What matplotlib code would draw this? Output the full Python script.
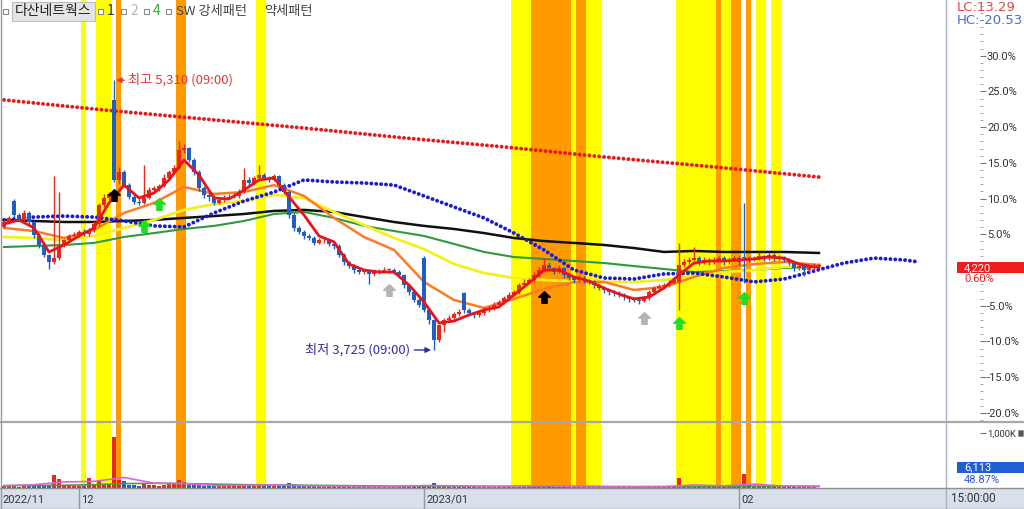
import matplotlib
matplotlib.use("Agg")
import matplotlib.pyplot as plt
from matplotlib.patches import Rectangle
from matplotlib.path import Path
from matplotlib.lines import Line2D
from matplotlib import font_manager as fm
import numpy as np

plt.rcParams['font.family'] = ['Noto Sans CJK KR', 'DejaVu Sans']

try:
    fm.findfont('Liberation Sans Narrow', fallback_to_default=False)
    NUM_FONT = ['Liberation Sans Narrow', 'DejaVu Sans']
    NUM_SIZE = 9.6
except Exception:
    NUM_FONT = ['Roboto', 'DejaVu Sans']
    NUM_SIZE = 8

# ---------------- data ----------------
base_price = 4195  # previous close (0 %)

opens = [4450,4475,4600,4520,4490,4530,4475,4400,4340,4285,
         4240,4265,4340,4370,4395,4400,4420,4405,4430,4465,
         4575,4620,5195,4725,4770,4695,4625,4595,4590,4620,
         4665,4675,4690,4735,4770,4795,4900,4910,4840,4770,
         4675,4635,4625,4590,4605,4620,4625,4630,4655,4725,
         4705,4735,4755,4735,4725,4745,4695,4655,4520,4440,
         4420,4395,4385,4355,4370,4370,4350,4335,4285,4240,
         4220,4195,4185,4185,4170,4190,4185,4195,4195,4185,
         4165,4105,4065,4020,4265,3960,3900,3785,3870,3900,
         3915,3935,4060,3960,3940,3930,3940,3960,3970,3990,
         4005,4030,4050,4065,4105,4120,4135,4165,4195,4225,
         4205,4185,4205,4165,4150,4135,4150,4135,4125,4105,
         4090,4075,4065,4060,4050,4035,4025,4020,4015,4030,
         4065,4090,4100,4105,4120,4125,4225,4240,4255,4265,
         4240,4255,4240,4255,4265,4240,4255,4265,4270,4265,
         4255,4265,4275,4265,4285,4265,4270,4255,4240,4205,
         4220,4195,4205,4220]
highs = [4490,4515,4610,4530,4545,4540,4480,4410,4350,4290,
         4745,4655,4380,4405,4420,4430,4435,4440,4480,4590,
         4640,4655,5310,4800,4785,4705,4640,4610,4810,4680,
         4690,4700,4760,4785,4810,4950,4935,4920,4850,4780,
         4690,4650,4635,4620,4635,4640,4645,4670,4795,4740,
         4750,4810,4765,4745,4760,4755,4705,4665,4530,4455,
         4430,4405,4395,4385,4385,4380,4360,4345,4295,4250,
         4230,4205,4200,4195,4200,4200,4210,4205,4205,4195,
         4170,4115,4075,4030,4280,3970,3905,3880,3915,3930,
         3950,3965,4065,3970,3950,3955,3975,3985,4005,4020,
         4045,4065,4080,4120,4140,4150,4185,4215,4265,4240,
         4215,4225,4215,4175,4160,4165,4160,4145,4135,4115,
         4100,4085,4075,4070,4060,4045,4035,4030,4045,4075,
         4100,4115,4120,4135,4150,4355,4260,4270,4330,4275,
         4270,4265,4270,4280,4275,4270,4280,4275,4590,4280,
         4280,4300,4285,4300,4295,4285,4280,4265,4250,4235,
         4230,4225,4235,4235]
lows = [4440,4465,4505,4480,4480,4460,4385,4325,4270,4200,
        4230,4255,4330,4360,4385,4390,4395,4395,4420,4455,
        4565,4605,4710,4700,4680,4610,4580,4575,4580,4610,
        4650,4660,4680,4725,4760,4790,4880,4830,4755,4660,
        4615,4600,4575,4580,4595,4610,4615,4620,4645,4695,
        4695,4725,4725,4710,4715,4680,4640,4500,4425,4405,
        4380,4370,4340,4345,4355,4335,4320,4270,4225,4205,
        4180,4170,4170,4110,4160,4170,4175,4180,4170,4150,
        4090,4050,4005,3975,3950,3880,3725,3770,3830,3890,
        3900,3925,3945,3925,3915,3920,3930,3950,3960,3980,
        3995,4020,4040,4055,4095,4110,4125,4155,4185,4190,
        4170,4175,4150,4135,4120,4125,4120,4110,4090,4075,
        4060,4050,4045,4035,4020,4005,4005,3995,4005,4020,
        4055,4080,4090,4095,4110,3960,4215,4230,4245,4225,
        4230,4225,4230,4245,4225,4230,4245,4225,4120,4240,
        4245,4255,4250,4255,4250,4255,4240,4225,4190,4195,
        4160,4185,4195,4205]
closes = [4475,4500,4520,4490,4530,4475,4400,4340,4285,4240,
          4265,4340,4370,4395,4400,4420,4405,4430,4465,4575,
          4620,4640,4725,4770,4695,4625,4595,4590,4620,4665,
          4675,4690,4735,4770,4795,4900,4910,4840,4770,4675,
          4635,4625,4590,4605,4620,4625,4630,4655,4725,4705,
          4735,4755,4735,4725,4745,4695,4655,4520,4440,4420,
          4395,4385,4355,4370,4370,4350,4335,4285,4240,4220,
          4195,4185,4185,4170,4190,4185,4195,4195,4185,4165,
          4105,4065,4020,3990,3960,3900,3785,3870,3900,3915,
          3935,3950,3960,3940,3930,3940,3960,3970,3990,4005,
          4030,4050,4065,4105,4120,4135,4165,4195,4225,4205,
          4185,4205,4165,4150,4135,4150,4135,4125,4105,4090,
          4075,4065,4060,4050,4035,4025,4020,4015,4030,4065,
          4090,4100,4105,4120,4135,4225,4240,4255,4265,4240,
          4255,4240,4255,4265,4240,4255,4265,4240,4265,4255,
          4265,4275,4265,4285,4265,4270,4255,4240,4205,4220,
          4195,4205,4220,4220]
volume_k = [40,30,35,25,30,28,35,30,40,35,
            230,160,40,35,30,30,45,190,60,120,
            70,60,930,140,120,60,50,45,90,60,
            55,45,60,80,70,150,110,60,70,50,
            40,35,30,35,30,30,35,40,80,50,
            60,55,40,35,40,45,50,90,70,40,
            35,30,35,30,25,25,30,40,35,30,
            25,20,20,25,20,20,20,20,20,25,
            40,35,40,35,60,50,90,60,40,30,
            25,25,40,25,20,20,20,20,25,25,
            25,30,30,40,35,35,40,45,50,35,
            30,35,30,25,25,20,20,20,20,25,
            20,20,20,20,20,20,20,25,25,30,
            30,25,25,30,35,190,60,40,35,30,
            30,25,25,30,25,25,25,25,260,60,
            40,35,35,30,35,30,30,30,40,30,
            30,35,30,6.113]

# short moving average (red), sampled every 3 bars
ma_red_idx = list(range(0, 163, 3)) + [163]
ma_red = [4465,4489,4442,4301,4342,4395,4442,4589,4694,4618,
          4647,4724,4841,4753,4618,4612,4665,4724,4736,4624,
          4518,4395,4360,4230,4195,4183,4183,4107,4007,3884,
          3895,3931,3960,3978,4048,4119,4195,4195,4154,4130,
          4089,4054,4025,4036,4089,4166,4236,4248,4248,4254,
          4260,4271,4265,4230,4213,4213]

# longer moving averages, sampled every 6 bars
ma_idx = list(range(0, 157, 6)) + [163]
ma_orange = [4442,4424,4383,4430,4530,4589,4683,4642,4653,4694,4630,4501,4389,4313,
             4125,4019,3972,4025,4083,4125,4125,4078,4095,4154,4207,4230,4242,4224]
ma_yellow = [4389,4383,4371,4395,4442,4489,4548,4583,4600,4636,4618,4536,4459,4383,
             4318,4230,4177,4148,4136,4130,4125,4125,4136,4160,4183,4195,4213,4224]
ma_green = [4330,4336,4342,4354,4389,4412,4436,4454,4483,4524,4536,4501,4454,4424,
            4395,4348,4301,4271,4260,4248,4236,4218,4201,4183,4189,4195,4207,4213]
ma_black = [4489,4483,4477,4477,4483,4489,4501,4512,4524,4542,4548,4536,4506,4477,
            4454,4436,4412,4383,4365,4354,4342,4324,4301,4307,4301,4301,4301,4295]

# leading blue dotted line (extends beyond last bar)
blue_idx = list(range(0, 181, 6)) + [183]
blue_line = [4489,4506,4512,4506,4483,4454,4448,4530,4600,4653,4724,4712,4706,4694,
             4630,4565,4501,4412,4313,4195,4148,4142,4172,4177,4154,4125,4142,4189,
             4236,4265,4254,4242]

# long red dotted line
red_dot_idx = [0, 20, 40, 60, 80, 100, 120, 140, 163]
red_dot = [5194, 5135, 5082, 5029, 4971, 4918, 4859, 4806, 4741]

# volume moving averages (K)
vol_ma_pink = [40,60,110,120,190,90,80,45,50,55,40,32,25,22,45,40,25,30,40,28,22,22,25,55,40,70,35,25]
vol_ma_green = [45,45,50,60,80,85,80,70,60,55,50,45,40,35,35,35,33,30,30,30,28,26,25,28,30,35,35,33]

# pattern bands (bar ranges), Y = yellow, O = orange
band_start = [16, 19, 23, 35, 51, 102, 106, 114, 115, 117, 135, 143, 144, 146, 149, 151, 154]
band_end   = [16, 21, 23, 36, 52, 105, 113, 114, 116, 119, 142, 143, 145, 147, 149, 152, 155]
band_kind  = ['Y','Y','O','O','Y','Y','O','Y','O','Y','Y','O','Y','O','O','Y','Y']

# signal markers
sig_black_idx = [22, 108];            sig_black_val = [4636, 4036]
sig_green_idx = [28, 31, 135, 148];   sig_green_val = [4454, 4583, 3884, 4030]
sig_gray_idx = [77, 128];             sig_gray_val = [4078, 3913]

# month boundaries
month_idx = [15, 84, 147]
month_lbl = ['12', '2023/01', '02']

pct_ticks = [-20, -15, -10, -5, 0, 5, 10, 15, 20, 25, 30]

# ---------------- figure ----------------
W, H = 1024, 509
fig = plt.figure(figsize=(W / 100, H / 100), dpi=100)
fig.patch.set_facecolor('white')

def fx(px):
    return px / W

def fy(py):
    return 1 - py / H

UP = '#e8281e'
DN = '#1f5fc4'
YEL = '#ffff00'
ORG = '#ff9a00'

ax = fig.add_axes([0, fy(421), fx(946), 421 / H])
axv = fig.add_axes([0, fy(488), fx(946), (488 - 423) / H])
axd = fig.add_axes([0, 0, fx(946), 21 / H])

XLIM = (-0.8, 188.4)
for a in (ax, axv, axd):
    a.set_xlim(*XLIM)
    a.set_xticks([])
    for s in ('top', 'bottom', 'left'):
        a.spines[s].set_visible(False)
ax.set_ylim(3308, 5781)
axv.set_ylim(0, 1180)

# bands
for s, e, k in zip(band_start, band_end, band_kind):
    col = YEL if k == 'Y' else ORG
    for a in (ax, axv):
        a.axvspan(s - 0.5, e + 0.5, color=col, lw=0, zorder=0)

xs = np.arange(len(closes))
o = np.array(opens, float); c = np.array(closes, float)
h = np.array(highs, float); l = np.array(lows, float)
colors = np.where(c >= o, UP, DN)
prev_c = np.concatenate([[o[0]], c[:-1]])
vol_colors = np.where(c >= prev_c, UP, DN)

# long lines
ax.plot(red_dot_idx, red_dot, color='#e81818', lw=2.8, linestyle=(0, (0.01, 1.25)),
        dash_capstyle='round', zorder=2.5)
ax.plot(ma_idx, ma_black, color='#101010', lw=1.8, zorder=2)
ax.plot(ma_idx, ma_green, color='#2e9a3e', lw=1.5, zorder=2)
ax.plot(ma_idx, ma_yellow, color='#f2f21a', lw=2.0, zorder=2)
ax.plot(ma_idx, ma_orange, color='#ff7a26', lw=1.8, zorder=2.2)
ax.plot(blue_idx, blue_line, color='#1a1ad2', lw=2.8, linestyle=(0, (0.01, 1.25)),
        dash_capstyle='round', zorder=2.6)

# candles
ax.vlines(xs, l, h, colors=colors, lw=1, zorder=3)
ax.bar(xs, np.maximum(np.abs(c - o), 4), bottom=np.minimum(o, c), width=0.62,
       color=colors, linewidth=0, zorder=3)
ax.plot(ma_red_idx, ma_red, color='#e8141a', lw=2.0, zorder=4)

# signal markers
arrow_marker = Path([(0, 1), (1, 0.05), (0.45, 0.05), (0.45, -1), (-0.45, -1),
                     (-0.45, 0.05), (-1, 0.05), (0, 1)],
                    [Path.MOVETO] + [Path.LINETO] * 6 + [Path.CLOSEPOLY])
ax.scatter(sig_black_idx, sig_black_val, marker=arrow_marker, s=70, color='black', zorder=5)
ax.scatter(sig_green_idx, sig_green_val, marker=arrow_marker, s=70, color='#22dd22', zorder=5)
ax.scatter(sig_gray_idx, sig_gray_val, marker=arrow_marker, s=70, color='#b4b4b4', zorder=5)

# high / low annotations
hi_i = int(np.argmax(highs)); hi = highs[hi_i]
lo_i = int(np.argmin(lows)); lo = lows[lo_i]
ax.annotate(f"최고 {hi:,} (09:00)", xy=(hi_i + 0.4, hi), xytext=(9, 0),
            textcoords='offset points', ha='left', va='center', fontsize=9.5,
            color='#e0383a', zorder=6,
            arrowprops=dict(arrowstyle='-|>', color='#e0383a', lw=1.0,
                            mutation_scale=8, shrinkA=1, shrinkB=0))
ax.annotate(f"최저 {lo:,} (09:00)", xy=(lo_i - 0.6, lo), xytext=(-15, 0),
            textcoords='offset points', ha='right', va='center', fontsize=9.5,
            color='#2e2e9e', zorder=6,
            arrowprops=dict(arrowstyle='-|>', color='#2e2e9e', lw=1.0,
                            mutation_scale=8, shrinkA=1, shrinkB=0))

# price axis (right, percent)
ax.yaxis.tick_right()
ax.spines['right'].set_position(('outward', 24.5))
ax.spines['right'].set_color('none')
ax.set_yticks([base_price * (1 + p / 100) for p in pct_ticks])
ax.set_yticklabels(['' if p == 0 else f"{p:.1f}%" for p in pct_ticks])
ax.set_yticks([base_price * (1 + p / 100) for p in range(-21, 38)], minor=True)
ax.tick_params(axis='y', which='major', direction='out', length=4, width=0.8,
               color='#777777', labelsize=NUM_SIZE, labelcolor='#333333', pad=1)
ax.tick_params(axis='y', which='minor', direction='out', length=2, width=0.6,
               color='#999999')
for t in ax.get_yticklabels():
    t.set_family(NUM_FONT)

# volume panel
axv.bar(xs, volume_k, width=0.62, color=vol_colors, linewidth=0, zorder=3)
axv.plot(ma_idx, vol_ma_green, color='#4a9a4a', lw=1.2, zorder=3.5)
axv.plot(ma_idx, vol_ma_pink, color='#d46ad4', lw=1.2, zorder=3.6)
axv.yaxis.tick_right()
axv.spines['right'].set_position(('outward', 24.5))
axv.spines['right'].set_color('none')
axv.set_yticks([1000])
axv.set_yticklabels(['1,000K'])
axv.tick_params(axis='y', direction='out', length=4, width=0.8, color='#777777',
                labelsize=NUM_SIZE - 1.2, labelcolor='#333333', pad=1)
for t in axv.get_yticklabels():
    t.set_family(NUM_FONT)

# date bar
DATE_BG = '#d9e0eb'
axd.set_facecolor(DATE_BG)
axd.set_ylim(0, 1)
axd.set_yticks([])
axd.spines['right'].set_visible(False)
axd.text(XLIM[0] + 0.4, 0.45, '2022/11', fontsize=NUM_SIZE, family=NUM_FONT,
         color='#333333', va='center', ha='left')
for mi, lab in zip(month_idx, month_lbl):
    axd.axvline(mi, color='#8e98ab', lw=1)
    axd.text(mi + 0.4, 0.45, lab, fontsize=NUM_SIZE, family=NUM_FONT,
             color='#333333', va='center', ha='left')
fig.add_artist(Rectangle((fx(946), 0), 1 - fx(946), 21 / H, transform=fig.transFigure,
                         facecolor=DATE_BG, edgecolor='none', zorder=0))
fig.text(fx(951), fy(498), '15:00:00', fontsize=NUM_SIZE + 0.4, family=NUM_FONT,
         color='#333333', va='center', ha='left')

# frame lines
def fline(x0, y0, x1, y1, color, lw):
    fig.add_artist(Line2D([fx(x0), fx(x1)], [fy(y0), fy(y1)], transform=fig.transFigure,
                          color=color, lw=lw, zorder=10))

fline(946, 0, 946, 509, '#aab2c4', 1)
fline(0, 421.5, 1024, 421.5, '#a8a8a8', 1.6)
fline(0, 488, 1024, 488, '#8f8f8f', 1)
fline(0.5, 0, 0.5, 509, '#9a9a9a', 1)
fline(0, 508.5, 1024, 508.5, '#9a9a9a', 1)

# right side labels
last = closes[-1]
lc = (last / min(lows) - 1) * 100
hc = (last / max(highs) - 1) * 100
chg = (last / base_price - 1) * 100
fig.text(fx(957), fy(7.5), f"LC:{lc:.2f}", fontsize=9.5, family=['DejaVu Sans'],
         color='#e04848', va='center', ha='left')
fig.text(fx(957), fy(20.5), f"HC:{hc:.2f}", fontsize=9.5, family=['DejaVu Sans'],
         color='#4a6ad0', va='center', ha='left')

disp_y = ax.transData.transform((0, last))[1]
tag_y = disp_y / H - 2 / H
fig.add_artist(Rectangle((fx(957), tag_y - 5.5 / H), 1 - fx(957), 11 / H, transform=fig.transFigure,
                         facecolor='#ee1c1c', edgecolor='none', zorder=11))
fig.text(fx(964), tag_y, f"{last:,}", fontsize=NUM_SIZE, family=NUM_FONT,
         color='white', va='center', ha='left', zorder=12)
fig.text(fx(964), tag_y - 11.5 / H, f"{chg:.2f}%", fontsize=NUM_SIZE, family=NUM_FONT,
         color='#e02020', va='center', ha='left', zorder=12)

vol_last = int(round(volume_k[-1] * 1000))
fig.add_artist(Rectangle((fx(957), fy(473)), 1 - fx(957), 11 / H, transform=fig.transFigure,
                         facecolor='#1f5fd0', edgecolor='none', zorder=11))
fig.text(fx(964), fy(467.5), f"{vol_last:,}", fontsize=NUM_SIZE, family=NUM_FONT,
         color='white', va='center', ha='left', zorder=12)
fig.text(fx(964), fy(480), "48.87%", fontsize=NUM_SIZE, family=NUM_FONT,
         color='#2a5bd7', va='center', ha='left', zorder=12)
fig.add_artist(Rectangle((fx(1017.5), fy(436)), 5.5 / W, 6 / H, transform=fig.transFigure,
                         facecolor='#555555', edgecolor='#888888', lw=0.5, zorder=11))

# legend (top-left)
def sq(x):
    fig.add_artist(Rectangle((fx(x), fy(14)), 5 / W, 5 / H, transform=fig.transFigure,
                             facecolor='white', edgecolor='#8a8a8a', lw=0.8, zorder=11))

fig.add_artist(Rectangle((fx(12), fy(21)), 83 / W, 19 / H, transform=fig.transFigure,
                         facecolor='#e4e4e4', edgecolor='#bdbdbd', lw=0.8, zorder=10))
sq(3)
fig.text(fx(15), fy(11), '다산네트웍스', fontsize=10, color='#222222', va='center', ha='left', zorder=12)
sq(98)
fig.text(fx(107), fy(11), '1', fontsize=10, color='#333333', va='center', ha='left', zorder=12)
sq(121)
fig.text(fx(130), fy(11), '2', fontsize=10, color='#b8b8b8', va='center', ha='left', zorder=12)
sq(144)
fig.text(fx(153), fy(11), '4', fontsize=10, color='#33aa33', va='center', ha='left', zorder=12)
sq(166)
fig.text(fx(176), fy(11), 'SW 강세패턴', fontsize=9.5, color='#444444', va='center', ha='left', zorder=12)
fig.text(fx(264), fy(11), '약세패턴', fontsize=9.5, color='#444444', va='center', ha='left', zorder=12)

fig.savefig('out.png', dpi=100)
